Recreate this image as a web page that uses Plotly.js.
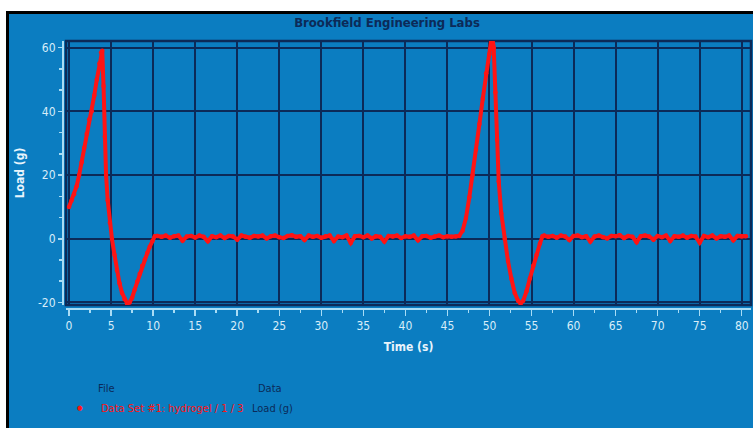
<!DOCTYPE html>
<html>
<head>
<meta charset="utf-8">
<script src="https://cdn.plot.ly/plotly-3.0.1.min.js"></script>
<style>
  html, body { margin: 0; padding: 0; background: #ffffff; width: 753px; height: 428px; overflow: hidden; }
  #frame { position: absolute; left: 6px; top: 11px; width: 747px; height: 417px; box-sizing: border-box;
           border-left: 3px solid #000; border-top: 3px solid #000; background: #0b7dc1; }
  #chart { position: absolute; left: 0; top: 0; width: 753px; height: 428px; }
</style>
</head>
<body>
<div id="frame"></div>
<div id="chart"></div>
<script>
// ---- data ----
const chartTitle = "Brookfield Engineering Labs";
const xTitle = "Time (s)";
const yTitle = "Load (g)";
const legendFileHeader = "File";
const legendDataHeader = "Data";
const seriesFile = "Data Set #1: hydrogel / 1 / 3";
const seriesData = "Load (g)";

const timeCycle1 = [0, 0.3, 0.6, 0.9, 1.2, 1.5, 1.8, 2.1, 2.4, 2.7, 3.0, 3.3, 3.6, 3.8, 3.95, 4.1, 4.25, 4.4, 4.6, 4.85,
  5.1, 5.4, 5.7, 6.0, 6.3, 6.6, 6.9, 7.2, 7.5, 7.8, 8.1, 8.4, 8.7, 9.0, 9.3, 9.6, 9.9, 10.2];
const loadCycle1 = [10, 12, 14, 16.5, 20, 24, 28.5, 33, 37.5, 40, 45, 50, 55, 58.5, 59, 48, 32, 20, 12, 5,
  0, -5, -10, -14, -17, -19, -20.3, -20, -18.5, -16, -13.5, -11, -8.5, -6.5, -4.5, -2.5, -0.8, 0.8];

const timeRest1 = [10.5, 11, 11.5, 12, 12.5, 13, 13.5, 14, 14.5, 15, 15.5, 16, 16.5, 17, 17.5, 18, 18.5, 19, 19.5, 20,
  20.5, 21, 21.5, 22, 22.5, 23, 23.5, 24, 24.5, 25, 25.5, 26, 26.5, 27, 27.5, 28, 28.5, 29, 29.5, 30,
  30.5, 31, 31.5, 32, 32.5, 33, 33.5, 34, 34.5, 35, 35.5, 36, 36.5, 37, 37.5, 38, 38.5, 39, 39.5, 40,
  40.5, 41, 41.5, 42, 42.5, 43, 43.5, 44, 44.5, 45, 45.5, 46];
const loadRest1 = [0.9, 0.6, 1.0, 0.3, 0.8, 1.0, -0.6, 0.7, 0.9, 0.4, 1.0, 0.6,
  -0.8, 0.8, 0.5, 1.0, 0.2, 0.9, 0.7, -0.3, 1.0, 0.6, 0.3, 0.9,
  0.7, 1.0, 0.1, 0.8, 1.0, 0.5, 0.2, 0.9, 1.1, 0.6, 0.8, -0.4,
  1.0, 0.6, 0.9, 0.3, 0.8, 1.0, -0.7, 0.7, 0.5, 1.0, -1.3, 0.8,
  0.9, 0.5, 1.0, 0.1, 0.8, 0.6, -0.9, 0.9, 0.7, 1.0, 0.2, 0.8,
  0.6, 1.0, -0.5, 0.8, 0.9, 0.3, 0.7, 1.0, 0.5, 0.8, 0.6, 0.7];

const timeCycle2 = [46.4, 46.8, 47.2, 47.6, 48.0, 48.4, 48.8, 49.2, 49.6, 50.0, 50.3, 50.5, 50.7, 50.9, 51.1, 51.4,
  51.8, 52.2, 52.6, 53.0, 53.4, 53.7, 54.0, 54.4, 54.8, 55.2, 55.6, 56.0, 56.3];
const loadCycle2 = [0.9, 2.5, 6.5, 13, 20, 28, 36, 44, 52, 58, 64, 60, 46, 31, 18, 8,
  0, -7, -12.5, -17, -19.5, -20.3, -19.5, -16.5, -12.5, -8.5, -5, -1.5, 0.8];

const timeRest2 = [56.5, 57, 57.5, 58, 58.5, 59, 59.5, 60, 60.5, 61, 61.5, 62, 62.5, 63, 63.5, 64, 64.5, 65, 65.5, 66,
  66.5, 67, 67.5, 68, 68.5, 69, 69.5, 70, 70.5, 71, 71.5, 72, 72.5, 73, 73.5, 74, 74.5, 75, 75.5, 76,
  76.5, 77, 77.5, 78, 78.5, 79, 79.5, 80, 80.5];
const loadRest2 = [1.0, 0.6, 0.9, 0.3, 1.0, 0.7, -0.4, 0.9, 1.0, 0.5, 0.8, -0.9,
  0.7, 1.0, 0.5, 0.1, 0.9, 0.8, 1.1, 0.2, 0.9, 0.6, -1.1, 0.8,
  1.0, 0.7, -0.3, 0.9, 0.5, 1.0, -0.7, 0.8, 0.6, 1.0, 0.3, 0.9,
  0.7, -1.2, 0.9, 0.5, 1.0, 0.1, 0.8, 0.6, 1.0, -0.5, 0.9, 0.7,
  0.8];

const xTickVals = [0, 5, 10, 15, 20, 25, 30, 35, 40, 45, 50, 55, 60, 65, 70, 75, 80];
const xTickText = ["0", "5", "10", "15", "20", "25", "30", "35", "40", "45", "50", "55", "60", "65", "70", "75", "80"];
const yTickVals = [-20, 0, 20, 40, 60];
const yTickText = ["-20", "0", "20", "40", "60"];

// ---- build ----
const timeAll = [].concat(timeCycle1, timeRest1, timeCycle2, timeRest2);
const loadAll = [].concat(loadCycle1, loadRest1, loadCycle2, loadRest2);

const axisLight = '#a8dcf5';
const labelLight = '#d8edf9';
const navy = '#0c2a58';
const red = '#ff1414';
const fam = '"Liberation Sans Narrow", "DejaVu Sans Condensed", "Arial Narrow", sans-serif';

const trace = {
  x: timeAll, y: loadAll, type: 'scatter', mode: 'lines+markers',
  line: { color: red, width: 4 },
  marker: { color: red, size: 4.5 },
  showlegend: false, hoverinfo: 'x+y'
};

const xd0 = 0.0044, yd0 = 0.015;
const layout = {
  width: 753, height: 428,
  margin: { l: 63, r: 2, t: 41, b: 119 },
  paper_bgcolor: 'rgba(0,0,0,0)',
  plot_bgcolor: 'rgba(0,0,0,0)',
  font: { family: fam, size: 12, color: labelLight },
  title: { text: '<b>' + chartTitle + '</b>', x: 387 / 753, xanchor: 'center', y: 1 - 22 / 428, yanchor: 'middle',
           xref: 'container', yref: 'container', font: { family: fam, size: 13, color: navy } },
  xaxis: {
    domain: [xd0, 1], range: [-0.36, 81.1], anchor: 'free', position: 0,
    tickmode: 'array', tickvals: xTickVals, ticktext: xTickText,
    showline: true, linecolor: axisLight, linewidth: 2,
    ticks: 'outside', ticklen: 6, tickwidth: 1.5, tickcolor: axisLight,
    minor: { dtick: 2.5, ticklen: 3, tickcolor: axisLight, tickwidth: 1.5, showgrid: false },
    showgrid: true, gridcolor: navy, gridwidth: 2, zeroline: false,
    tickfont: { family: fam, size: 12, color: labelLight },
    title: { text: '<b>' + xTitle + '</b>', standoff: 9, font: { family: fam, size: 12, color: '#e8f4fc' } }
  },
  yaxis: {
    domain: [yd0, 1], range: [-20.8, 62.1], anchor: 'free', position: 0,
    tickmode: 'array', tickvals: yTickVals, ticktext: yTickText,
    showline: true, linecolor: axisLight, linewidth: 2,
    ticks: 'outside', ticklen: 4, tickwidth: 1.5, tickcolor: axisLight,
    minor: { tickvals: [-13.333, -6.667, 6.667, 13.333, 26.667, 33.333, 46.667, 53.333], ticklen: 3, tickcolor: axisLight, tickwidth: 1.5, showgrid: false },
    showgrid: true, gridcolor: navy, gridwidth: 2, zeroline: false,
    tickfont: { family: fam, size: 12, color: labelLight },
    title: { text: '<b>' + yTitle + '</b>', standoff: 10, font: { family: fam, size: 12, color: '#e8f4fc' } }
  },
  shapes: [
    { type: 'rect', xref: 'paper', yref: 'paper', x0: xd0, x1: 1, y0: yd0, y1: 1,
      line: { color: navy, width: 2.5 }, fillcolor: 'rgba(0,0,0,0)', layer: 'below' }
  ],
  annotations: [
    { xref: 'paper', yref: 'paper', x: (106 - 63) / 688, y: -(388 - 309) / 268, text: legendFileHeader,
      showarrow: false, xanchor: 'center', yanchor: 'middle', font: { family: fam, size: 11, color: navy } },
    { xref: 'paper', yref: 'paper', x: (270 - 63) / 688, y: -(388 - 309) / 268, text: legendDataHeader,
      showarrow: false, xanchor: 'center', yanchor: 'middle', font: { family: fam, size: 11, color: navy } },
    { xref: 'paper', yref: 'paper', x: (80 - 63) / 688, y: -(408 - 309) / 268, text: '●',
      showarrow: false, xanchor: 'center', yanchor: 'middle', font: { family: fam, size: 7, color: red } },
    { xref: 'paper', yref: 'paper', x: (99 - 63) / 688, y: -(408 - 309) / 268, text: seriesFile,
      showarrow: false, xanchor: 'left', yanchor: 'middle', font: { family: fam, size: 11, color: red } },
    { xref: 'paper', yref: 'paper', x: (250 - 63) / 688, y: -(408 - 309) / 268, text: seriesData,
      showarrow: false, xanchor: 'left', yanchor: 'middle', font: { family: fam, size: 11, color: navy } }
  ]
};

Plotly.newPlot('chart', [trace], layout, { staticPlot: true, displayModeBar: false });
</script>
</body>
</html>
